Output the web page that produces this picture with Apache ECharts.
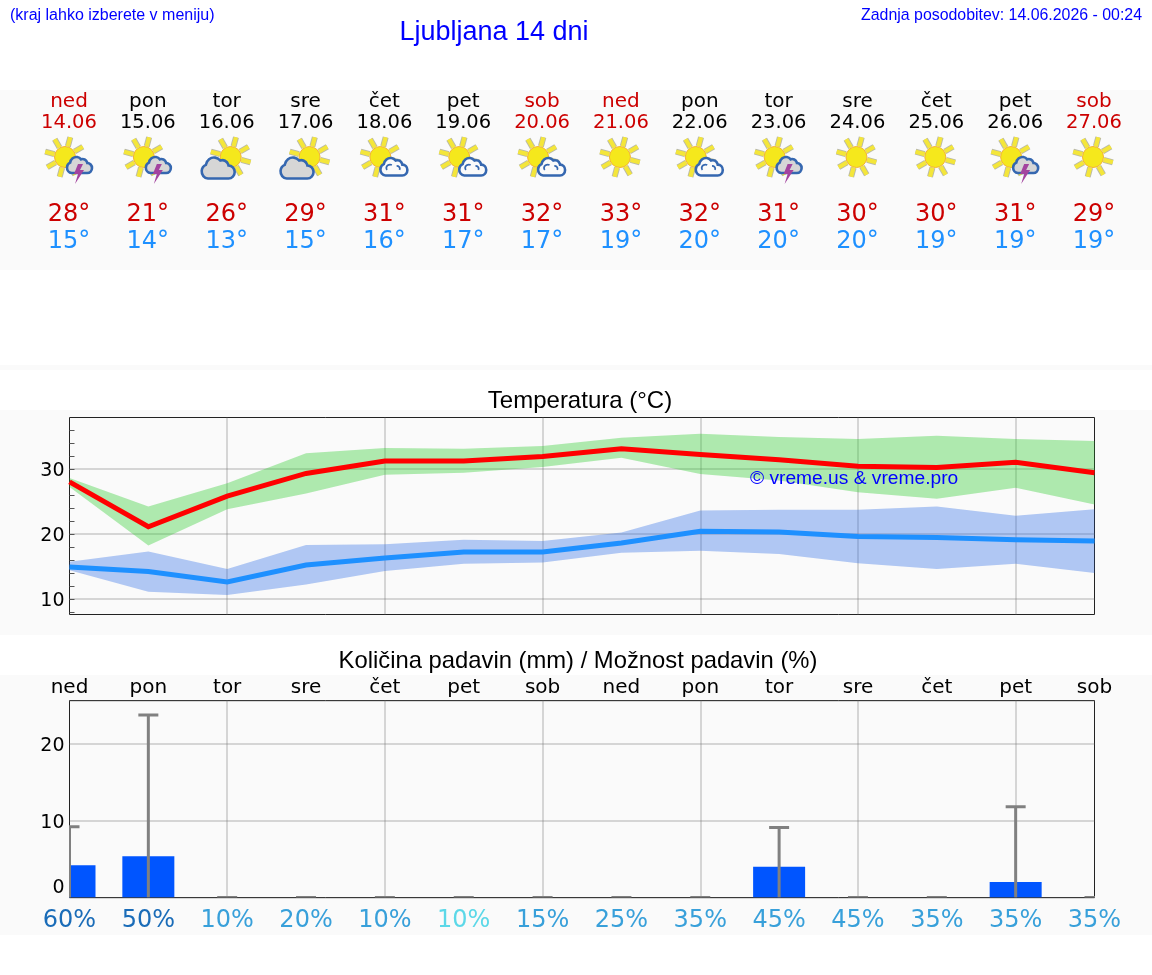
<!DOCTYPE html>
<html lang="sl">
<head>
<meta charset="utf-8">
<title>Ljubljana 14 dni</title>
<script src="https://cdn.jsdelivr.net/npm/echarts@6/dist/echarts.min.js"></script>
<style>
  html, body { margin: 0; padding: 0; background: #fff; }
  #chart { width: 1152px; height: 975px; }
</style>
</head>
<body>
<div id="chart"></div>
<script>
// Forecast days
const days = ['ned', 'pon', 'tor', 'sre', 'čet', 'pet', 'sob', 'ned', 'pon', 'tor', 'sre', 'čet', 'pet', 'sob'];
const dates = ['14.06', '15.06', '16.06', '17.06', '18.06', '19.06', '20.06', '21.06', '22.06', '23.06', '24.06', '25.06', '26.06', '27.06'];
const sky = ['storm', 'storm', 'cloudy', 'cloudy', 'fair', 'fair', 'fair', 'sun', 'fair', 'storm', 'sun', 'sun', 'storm', 'sun'];

// Temperatures (°C)
const tempMax = [28.0, 21.1, 25.8, 29.3, 31.2, 31.2, 31.9, 33.1, 32.2, 31.4, 30.4, 30.2, 31.0, 29.4];
const tempMaxLow = [27.2, 18.2, 23.8, 26.2, 29.1, 29.4, 30.3, 31.7, 29.2, 28.2, 26.4, 25.4, 27.1, 24.5];
const tempMaxHigh = [28.6, 24.2, 27.8, 32.4, 33.2, 33.1, 33.5, 34.8, 35.4, 34.9, 34.6, 35.1, 34.6, 34.3];
const tempMin = [14.9, 14.2, 12.6, 15.2, 16.3, 17.2, 17.2, 18.6, 20.4, 20.3, 19.6, 19.45, 19.1, 18.9];
const tempMinLow = [14.4, 11.1, 10.6, 12.2, 14.3, 15.4, 15.6, 17.1, 17.4, 16.9, 15.5, 14.6, 15.4, 14.0];
const tempMinHigh = [15.7, 17.3, 14.6, 18.3, 18.4, 19.1, 18.9, 20.2, 23.6, 23.7, 23.7, 24.2, 22.8, 23.8];
const tempTicks = [8, 10, 12, 14, 16, 18, 20, 22, 24, 26, 28, 30, 32, 34, 36];
const tempLabels = [10, 20, 30];

// Precipitation (mm) and its probability (%)
const rain = [4.2, 5.35, 0, 0, 0, 0, 0, 0, 0, 4.0, 0, 0, 2.0, 0];
const rainHigh = [9.2, 23.7, 0, 0, 0, 0, 0, 0, 0, 9.1, 0, 0, 11.8, 0];
const rainChance = [60, 50, 10, 20, 10, 10, 15, 25, 35, 45, 45, 35, 35, 35];
const rainChanceColors = ['#1a6cb8', '#1a6cb8', '#38a0da', '#38a0da', '#38a0da', '#5cd8e8', '#38a0da', '#38a0da', '#38a0da', '#38a0da', '#38a0da', '#38a0da', '#38a0da', '#38a0da'];

const DEJAVU = '"DejaVu Sans", sans-serif';
const ARIAL = '"Liberation Sans", Arial, sans-serif';
const RED = '#cc0000';
const BAR_WIDTH = 52;
const weekendColor = (i) => (days[i] === 'ned' || days[i] === 'sob') ? RED : '#000';

const CLOUD = 'M7 22 A6.5 6.5 0 0 1 5 9.5 A8 8 0 0 1 19 5.5 A6 6 0 0 1 27 10 A6 6 0 0 1 27 22 Z';
const CURL = 'M9 17 A4 4 0 0 1 14 11 M22 17 A3.4 3.4 0 0 0 19 12';

function sunShape(cx, cy) {
  const parts = [];
  for (let k = 0; k < 8; k++) {
    const a = (75 - k * 45) * Math.PI / 180;
    const line = {
      x1: cx + Math.cos(a) * 11, y1: cy - Math.sin(a) * 11,
      x2: cx + Math.cos(a) * 20.5, y2: cy - Math.sin(a) * 20.5
    };
    parts.push({ type: 'line', shape: line, style: { stroke: '#b9b9a8', lineWidth: 6 } });
    parts.push({ type: 'line', shape: line, style: { stroke: '#f4e63a', lineWidth: 4.2 } });
  }
  parts.push({ type: 'circle', shape: { cx, cy, r: 10.5 }, style: { fill: '#f5e81c', stroke: '#f3b334', lineWidth: 1 } });
  return parts;
}

function cloudShape(x, y, w, h, fill, curl) {
  const parts = [{
    type: 'path',
    shape: { pathData: CLOUD, layout: 'cover', x, y, width: w, height: h },
    style: { fill, stroke: '#3567b0', lineWidth: 2.6 }
  }];
  if (curl) {
    parts.push({
      type: 'path',
      shape: { pathData: CURL, layout: 'cover', x: x + w * 0.22, y: y + h * 0.38, width: w * 0.5, height: h * 0.3 },
      style: { fill: 'none', stroke: '#3567b0', lineWidth: 1.8 }
    });
  }
  return parts;
}

function renderSky(params, api) {
  const kind = sky[params.dataIndex];
  const [px, py] = api.coord([params.dataIndex, api.value(1)]);
  let children;
  if (kind === 'sun') {
    children = sunShape(px - 1, py);
  } else if (kind === 'cloudy') {
    children = sunShape(px + 4, py).concat(cloudShape(px - 25, py + 0.5, 33, 21, '#d6d6d6', false));
  } else if (kind === 'fair') {
    children = sunShape(px - 4, py).concat(cloudShape(px - 4, py + 1, 27, 17.5, '#fafafa', true));
  } else {
    children = sunShape(px - 4, py).concat(cloudShape(px - 2, py, 25, 16, '#d6d6d6', false));
    children.push({
      type: 'polygon',
      shape: { points: [[px + 14, py + 7], [px + 9, py + 7], [px + 5, py + 17], [px + 9, py + 17], [px + 6, py + 27], [px + 15, py + 13], [px + 11, py + 13]] },
      style: { fill: '#a3449f' }
    });
  }
  return { type: 'group', children };
}

// One line of centred text per day, placed on the forecast strip's own scales
function textRow(name, values, size, colorOf, row) {
  return {
    name, type: 'custom', xAxisIndex: 0, yAxisIndex: 0, silent: true, clip: false,
    data: values.map((v, i) => [i, row, v]),
    encode: { x: 0, y: 1 },
    renderItem(params, api) {
      const [x, y] = api.coord([api.value(0), api.value(1)]);
      return {
        type: 'text', x, y,
        style: {
          text: String(values[params.dataIndex]), fill: colorOf(params.dataIndex),
          font: size + 'px ' + DEJAVU, align: 'center', verticalAlign: 'middle'
        }
      };
    }
  };
}

// Filled range between a lower and an upper series
function band(name, low, high, color, xi, yi) {
  return {
    name, type: 'custom', xAxisIndex: xi, yAxisIndex: yi, silent: true, z: 2,
    data: low.map((v, i) => [i, v, high[i]]),
    encode: { x: 0, y: [1, 2] },
    renderItem(params, api) {
      if (params.dataIndex !== 0) return null;
      const top = high.map((v, i) => api.coord([i, v]));
      const bottom = low.map((v, i) => api.coord([i, v])).reverse();
      return { type: 'polygon', shape: { points: top.concat(bottom) }, style: { fill: color } };
    }
  };
}

const gridLine = { show: true, lineStyle: { color: 'rgba(120,120,120,0.28)', width: 2 } };
const everyOtherDay = (i) => i > 0 && i % 2 === 0;
const frame = { show: true, backgroundColor: '#fafafa', borderColor: '#222', borderWidth: 1 };
// Rich text lets the value labels sit slightly below their grid lines
const axisText = {
  formatter: '{t|{value}}',
  rich: { t: { fontFamily: DEJAVU, fontSize: 19, color: '#000', padding: [5, 0, 0, 0] } }
};

const chart = echarts.init(document.getElementById('chart'), null, { renderer: 'canvas' });
chart.setOption({
  animation: false,
  backgroundColor: '#fff',
  title: [
    { text: '(kraj lahko izberete v meniju)', left: 5, top: 3, textStyle: { fontFamily: ARIAL, fontSize: 16, fontWeight: 'normal', color: '#0000ff' } },
    { text: 'Ljubljana 14 dni', left: 489, top: 14, textAlign: 'center', textStyle: { fontFamily: ARIAL, fontSize: 27, fontWeight: 'normal', color: '#0000ff' } },
    { text: 'Zadnja posodobitev: 14.06.2026 - 00:24', right: 5, top: 3, textStyle: { fontFamily: ARIAL, fontSize: 15.9, fontWeight: 'normal', color: '#0000ff' } },
    { text: 'Temperatura (°C)', left: 575, top: 384, textAlign: 'center', textStyle: { fontFamily: ARIAL, fontSize: 24, fontWeight: 'normal', color: '#000' } },
    { text: 'Količina padavin (mm) / Možnost padavin (%)', left: 573, top: 644, textAlign: 'center', textStyle: { fontFamily: ARIAL, fontSize: 23.8, fontWeight: 'normal', color: '#000' } },
    { text: '© vreme.us & vreme.pro', left: 745, top: 464, textStyle: { fontFamily: ARIAL, fontSize: 19.2, fontWeight: 'normal', color: '#0000ff' } }
  ],
  graphic: [
    { type: 'rect', z: -10, shape: { x: 0, y: 90, width: 1152, height: 180 }, style: { fill: '#fafafa' } },
    { type: 'rect', z: -10, shape: { x: 0, y: 365, width: 1152, height: 5 }, style: { fill: '#fafafa' } },
    { type: 'rect', z: -10, shape: { x: 0, y: 410, width: 1152, height: 225 }, style: { fill: '#fafafa' } },
    { type: 'rect', z: -10, shape: { x: 0, y: 675, width: 1152, height: 260 }, style: { fill: '#fafafa' } }
  ],
  grid: [
    { left: 69, right: 58, top: 90, height: 180, show: false },
    Object.assign({ left: 69.5, right: 57.5, top: 417.5, height: 197 }, frame),
    Object.assign({ left: 69.5, right: 57.5, top: 700.5, height: 197 }, frame)
  ],
  xAxis: [
    { type: 'category', gridIndex: 0, data: days, boundaryGap: false, show: false },
    {
      type: 'category', gridIndex: 1, data: days, boundaryGap: false,
      axisLine: { show: false }, axisTick: { show: false }, axisLabel: { show: false },
      splitLine: Object.assign({ interval: everyOtherDay }, gridLine)
    },
    {
      type: 'category', gridIndex: 2, data: days, boundaryGap: false, position: 'top',
      axisLine: { show: false }, axisTick: { show: false },
      axisLabel: { interval: 0, margin: 3, fontSize: 20, hideOverlap: false, fontFamily: DEJAVU, color: '#000' },
      splitLine: Object.assign({ interval: everyOtherDay }, gridLine)
    },
    {
      type: 'category', gridIndex: 2, data: rainChance, boundaryGap: false, position: 'bottom',
      axisLine: { show: false }, axisTick: { show: false },
      axisLabel: {
        interval: 0, margin: 11, fontFamily: DEJAVU, fontSize: 24, hideOverlap: false,
        formatter: (v) => v + '%',
        color: (v, i) => rainChanceColors[i]
      }
    }
  ],
  yAxis: [
    { type: 'value', gridIndex: 0, min: 0, max: 180, inverse: true, show: false },
    {
      type: 'value', gridIndex: 1, min: 7.6, max: 37.9,
      axisLine: { show: false }, splitLine: { show: false },
      axisTick: { show: true, inside: true, length: 5, customValues: tempTicks, lineStyle: { color: '#555' } },
      axisLabel: Object.assign({ margin: 5, customValues: tempLabels }, axisText)
    },
    {
      type: 'value', gridIndex: 1, min: 7.6, max: 37.9, position: 'left',
      axisLine: { show: false }, axisLabel: { show: false },
      axisTick: { show: false, customValues: tempLabels },
      splitLine: gridLine
    },
    {
      type: 'value', gridIndex: 2, min: 0, max: 25.6, interval: 10,
      axisLine: { show: false }, axisTick: { show: false },
      axisLabel: Object.assign({ margin: 5, verticalAlignMinLabel: 'bottom', showMaxLabel: false }, axisText),
      splitLine: gridLine
    }
  ],
  series: [
    textRow('dan', days, 20, weekendColor, 12),
    textRow('datum', dates, 19.5, weekendColor, 33),
    textRow('najvišja', tempMax.map((v) => Math.round(v) + '°'), 24, () => RED, 125),
    textRow('najnižja', tempMin.map((v) => Math.round(v) + '°'), 24, () => '#1e90ff', 152),
    {
      name: 'vreme', type: 'custom', xAxisIndex: 0, yAxisIndex: 0, silent: true, clip: false,
      data: sky.map((s, i) => [i, 67]),
      encode: { x: 0, y: 1 },
      renderItem: renderSky
    },
    band('razpon najvišje', tempMaxLow, tempMaxHigh, 'rgba(50,205,50,0.38)', 1, 1),
    band('razpon najnižje', tempMinLow, tempMinHigh, 'rgba(50,110,230,0.37)', 1, 1),
    {
      name: 'najvišja temperatura', type: 'line', xAxisIndex: 1, yAxisIndex: 1, data: tempMax, z: 4,
      showSymbol: false, silent: true,
      lineStyle: { color: '#ff0000', width: 5, join: 'miter' }
    },
    {
      name: 'najnižja temperatura', type: 'line', xAxisIndex: 1, yAxisIndex: 1, data: tempMin, z: 4,
      showSymbol: false, silent: true,
      lineStyle: { color: '#1e90ff', width: 5, join: 'miter' }
    },
    {
      // Custom rectangles, since the first day's bar has to stop at the plot frame
      name: 'padavine', type: 'custom', xAxisIndex: 2, yAxisIndex: 3, silent: true, z: 3, clip: true,
      data: rain.map((v, i) => [i, v]),
      encode: { x: 0, y: 1 },
      renderItem(params, api) {
        if (!api.value(1)) return null;
        const top = api.coord([api.value(0), api.value(1)]);
        const base = api.coord([api.value(0), 0]);
        return {
          type: 'rect',
          shape: { x: top[0] - BAR_WIDTH / 2, y: top[1], width: BAR_WIDTH, height: base[1] - top[1] },
          style: { fill: '#0055ff' }
        };
      }
    },
    {
      name: 'največ padavin', type: 'custom', xAxisIndex: 2, yAxisIndex: 3, silent: true, z: 5, clip: true,
      data: rainHigh.map((v, i) => [i, v]),
      encode: { x: 0, y: 1 },
      renderItem(params, api) {
        const top = api.coord([api.value(0), api.value(1)]);
        const base = api.coord([api.value(0), 0]);
        const stroke = { stroke: '#808080', lineWidth: 3 };
        return {
          type: 'group',
          children: [
            { type: 'line', shape: { x1: top[0], y1: base[1], x2: top[0], y2: top[1] }, style: stroke },
            { type: 'line', shape: { x1: top[0] - 10, y1: top[1], x2: top[0] + 10, y2: top[1] }, style: stroke }
          ]
        };
      }
    }
  ]
});
</script>
</body>
</html>
